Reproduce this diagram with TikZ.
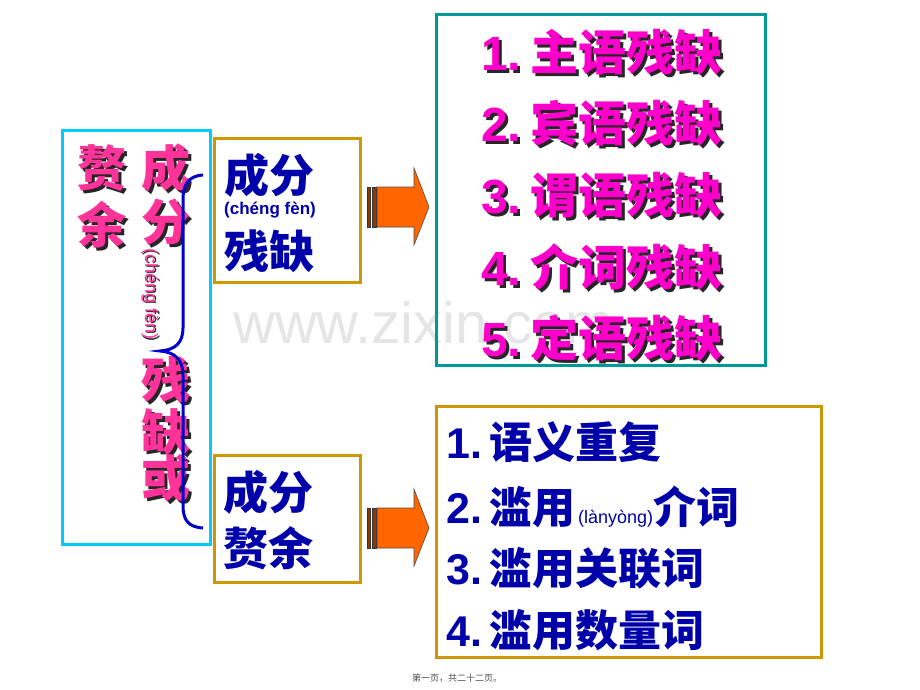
\documentclass[tikz,border=0pt]{standalone}
\usepackage{fontspec}
\setmainfont{Liberation Sans}
\newfontfamily\cjk{Noto Sans CJK SC}

\definecolor{skyline}{HTML}{00CCFF}
\definecolor{goldline}{HTML}{CC9900}
\definecolor{tealline}{HTML}{009999}
\definecolor{hotpink}{HTML}{FF3399}
\definecolor{magpink}{HTML}{FF00CC}
\definecolor{inkblue}{HTML}{0000AA}
\definecolor{braceblue}{HTML}{0000CC}
\definecolor{blockorange}{HTML}{FF6600}

\tikzset{
  framebox/.style={draw=#1, line width=3pt, inner sep=0pt},
  leftchar/.style={text=hotpink, inner sep=0pt, font={\cjk\bfseries\fontsize{49}{49}\selectfont}},
  lackline/.style={text=magpink, inner sep=0pt, anchor=west, font={\bfseries\fontsize{48}{48}\selectfont}},
  dropshadow/.style={text=black!85},
  blueline/.style={text=inkblue, inner sep=0pt, anchor=west, font={\bfseries\fontsize{43}{43}\selectfont}},
  boxword/.style={text=inkblue, inner sep=0pt, anchor=west, font={\cjk\bfseries\fontsize{45}{45}\selectfont}},
  blockarrow/.style={draw=black!70, fill=blockorange, line width=0.6pt, line join=miter},
  stripe/.style={draw=black!80, fill=blockorange!55!black, line width=0.5pt}
}

\begin{document}
\begin{tikzpicture}[x=1pt, y=-1pt]
  \useasboundingbox (0,0) rectangle (920,690);

  % watermark
  \node[text=black!10, inner sep=0pt, anchor=base west, font=\fontsize{58}{58}\selectfont] (mark) at (233,343) {www.zixin.com};

  % frames
  \node[framebox=skyline, minimum width=148pt, minimum height=414pt] (left) at (136,337) {};
  \node[framebox=goldline, minimum width=146pt, minimum height=144pt] (lack) at (287,210) {};
  \node[framebox=goldline, minimum width=146pt, minimum height=127pt] (surplus) at (287,518.5) {};
  \node[framebox=tealline, minimum width=329pt, minimum height=350pt] (lacklist) at (600.5,190) {};
  \node[framebox=goldline, minimum width=385pt, minimum height=251pt] (surpluslist) at (628.5,531.5) {};

  % left column, shadowed characters
  \foreach \ch/\px/\py [count=\k] in {赘/102/168, 余/102/225, 成/166/168, 分/166/222, 残/166/380, 缺/166/432, 或/166/478} {
    \node[leftchar, dropshadow] (ls\k) at (\px+3,\py+3) {\ch};
    \node[leftchar] (l\k) at (\px,\py) {\ch};
  }
  \node[text=black!85, rotate=-90, inner sep=0pt, font=\fontsize{18}{18}\selectfont] (lpys) at (151.5,295.5) {(chéng fèn)};
  \node[text=hotpink, rotate=-90, inner sep=0pt, font=\fontsize{18}{18}\selectfont] (lpy) at (150,294) {(chéng fèn)};

  % brace
  \draw[braceblue, line width=3pt] (203,175) .. controls (188,176) and (183,185) .. (183,200) -- (183,328)
    .. controls (183,343) and (175,350) .. (160,351) .. controls (175,352) and (183,360) .. (183,375)
    -- (183,505) .. controls (183,520) and (188,527) .. (203,528);

  % middle boxes
  \node[boxword] (lack1) at (224,175) {成分};
  \node[text=inkblue, inner sep=0pt, anchor=west, font={\bfseries\fontsize{17}{17}\selectfont}] (lackpy) at (224,210) {(chéng fèn)};
  \node[boxword] (lack2) at (224,251) {残缺};
  \node[boxword] (surplus1) at (223,492) {成分};
  \node[boxword] (surplus2) at (223,548) {赘余};

  % arrows
  \foreach \ay in {207, 528} {
    \draw[stripe] (367,\ay-20) rectangle (370.5,\ay+20);
    \draw[stripe] (372.5,\ay-20) rectangle (376.5,\ay+20);
    \draw[blockarrow] (377,\ay-20) -- (414,\ay-20) -- (414,\ay-39) -- (429,\ay)
      -- (414,\ay+38) -- (414,\ay+20) -- (377,\ay+20) -- cycle;
  }

  % lack list
  \foreach \txt [count=\k] in {主语残缺, 宾语残缺, 谓语残缺, 介词残缺, 定语残缺} {
    \node[lackline, dropshadow] (rs\k) at (484,{55+71.5*(\k-1)}) {\k.\hspace{9pt}{\cjk\txt}};
    \node[lackline] (r\k) at (481,{52+71.5*(\k-1)}) {\k.\hspace{9pt}{\cjk\txt}};
  }

  % surplus list
  \node[blueline] (b1) at (446,442) {1.\hspace{7pt}{\cjk 语义重复}};
  \node[blueline] (b2) at (446,507) {2.\hspace{7pt}{\cjk 滥用}{\mdseries\fontsize{18}{18}\selectfont\,(lànyòng)}{\cjk 介词}};
  \node[blueline] (b3) at (446,568) {3.\hspace{7pt}{\cjk 滥用关联词}};
  \node[blueline] (b4) at (446,630) {4.\hspace{7pt}{\cjk 滥用数量词}};

  % footer
  \node[text=black!70, inner sep=0pt, font={\cjk\fontsize{9}{9}\selectfont}] (foot) at (457,678) {第一页，共二十二页。};
\end{tikzpicture}
\end{document}
